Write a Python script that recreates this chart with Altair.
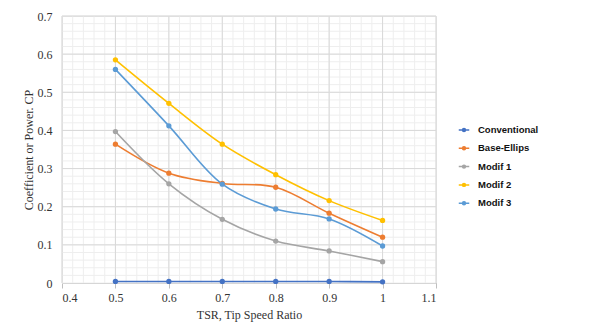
import altair as alt
import pandas as pd

tsr = [0.5, 0.6, 0.7, 0.8, 0.9, 1.0]
series_names = ["Conventional", "Base-Ellips", "Modif 1", "Modif 2", "Modif 3"]
conventional = [0.004, 0.004, 0.004, 0.004, 0.004, 0.003]
base_ellips = [0.364, 0.288, 0.261, 0.251, 0.183, 0.120]
modif1 = [0.397, 0.260, 0.167, 0.110, 0.084, 0.056]
modif2 = [0.585, 0.471, 0.364, 0.284, 0.216, 0.164]
modif3 = [0.560, 0.412, 0.259, 0.194, 0.168, 0.097]
colors = ["#4472C4", "#ED7D31", "#A5A5A5", "#FFC000", "#5B9BD5"]

x_minor = [round(0.4 + 0.02 * i, 2) for i in range(36)]
y_minor = [round(0.02 * i, 2) for i in range(36)]
x_major = [0.4, 0.5, 0.6, 0.7, 0.8, 0.9, 1.0, 1.1]
y_major = [0, 0.1, 0.2, 0.3, 0.4, 0.5, 0.6, 0.7]

rows = []
for name, vals in zip(series_names, [conventional, base_ellips, modif1, modif2, modif3]):
    for x, v in zip(tsr, vals):
        rows.append({"TSR": x, "CP": v, "Series": name})
df = pd.DataFrame(rows)

xs = alt.Scale(domain=[0.4, 1.1], nice=False, zero=False)
ys = alt.Scale(domain=[0, 0.7], nice=False)

x_axis = alt.Axis(values=x_major, format="~g", grid=False, domain=True, domainColor="#bfbfbf",
                  ticks=True, tickColor="#bfbfbf", tickSize=5,
                  labelFont="Liberation Serif", labelFontSize=12, labelColor="#333333",
                  labelPadding=4, titleFont="Liberation Serif", titleFontSize=12,
                  titleFontWeight="normal", titleColor="#333333", titlePadding=6)
y_axis = alt.Axis(values=y_major, format="~g", grid=False, domain=False, ticks=False,
                  labelFont="Liberation Serif", labelFontSize=12, labelColor="#333333",
                  labelPadding=10, titleFont="Liberation Serif", titleFontSize=12,
                  titleFontWeight="normal", titleColor="#333333", titlePadding=2)
x_title = "TSR, Tip Speed Ratio"
y_title = "Coefficient or Power. CP"

minor_x = alt.Chart(pd.DataFrame({"v": x_minor})).mark_rule(color="#eeeeee", strokeWidth=1).encode(
    x=alt.X("v:Q", scale=xs, axis=x_axis, title=x_title))
minor_y = alt.Chart(pd.DataFrame({"v": y_minor})).mark_rule(color="#eeeeee", strokeWidth=1).encode(
    y=alt.Y("v:Q", scale=ys, axis=y_axis, title=y_title))
major_x = alt.Chart(pd.DataFrame({"v": x_major})).mark_rule(color="#d9d9d9", strokeWidth=1).encode(
    x=alt.X("v:Q", scale=xs, axis=x_axis, title=x_title))
major_y = alt.Chart(pd.DataFrame({"v": y_major[1:]})).mark_rule(color="#d9d9d9", strokeWidth=1).encode(
    y=alt.Y("v:Q", scale=ys, axis=y_axis, title=y_title))

legend_path = "M-1,0H1M-0.28,0A0.28,0.28,0,1,1,0.28,0A0.28,0.28,0,1,1,-0.28,0Z"

lines = alt.Chart(df).mark_line(interpolate="catmull-rom", strokeWidth=1.6).encode(
    x=alt.X("TSR:Q", scale=xs, axis=x_axis, title=x_title),
    y=alt.Y("CP:Q", scale=ys, axis=y_axis, title=y_title),
    color=alt.Color("Series:N", scale=alt.Scale(domain=series_names, range=colors),
                    sort=series_names,
                    legend=alt.Legend(title=None, orient="none", legendX=396, legendY=108,
                                      symbolType=legend_path, symbolSize=110, symbolStrokeWidth=1.5,
                                      labelFont="Liberation Sans", labelFontSize=9.5,
                                      labelFontWeight="bold", labelColor="#111111",
                                      rowPadding=7.3, labelOffset=8)),
)
points = alt.Chart(df).mark_point(filled=True, size=28, opacity=1).encode(
    x=alt.X("TSR:Q", scale=xs, axis=x_axis, title=x_title),
    y=alt.Y("CP:Q", scale=ys, axis=y_axis, title=y_title),
    color=alt.Color("Series:N", scale=alt.Scale(domain=series_names, range=colors), legend=None),
)

chart = alt.layer(minor_x, minor_y, major_x, major_y, lines, points).properties(
    width=374, height=267,
    autosize=alt.AutoSizeParams(type="none"),
    padding={"left": 54, "top": 8, "right": 158, "bottom": 44},
).configure_view(stroke=None).configure(background="white")

chart.save("out.html", embed_options={"renderer": "svg", "actions": False})
